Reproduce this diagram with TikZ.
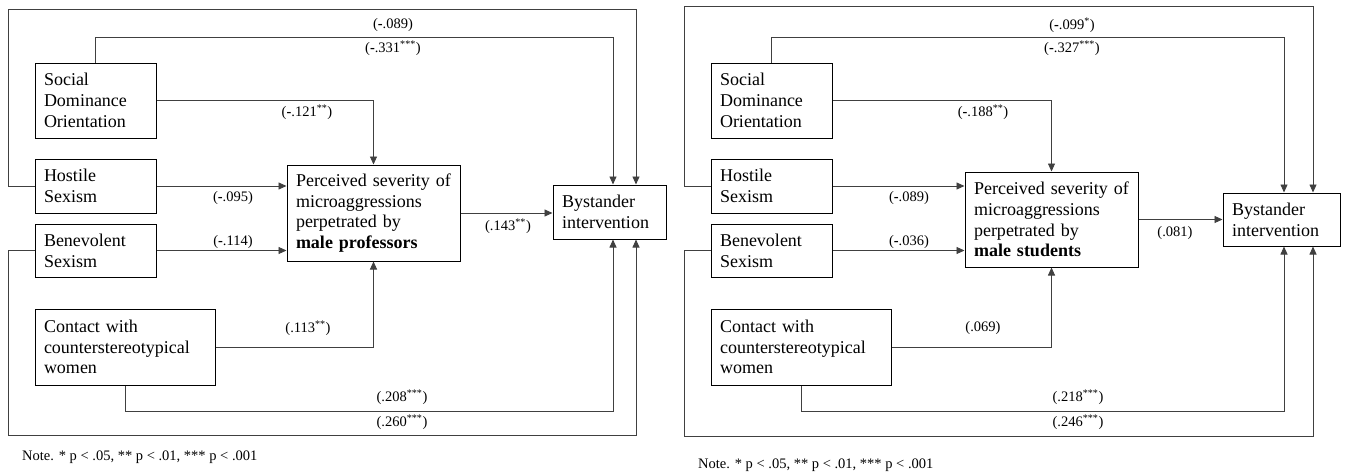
\documentclass[tikz,border=0pt]{standalone}
\usepackage{fontspec}
\setmainfont{Liberation Serif}
\usetikzlibrary{arrows.meta}

\begin{document}
\begin{tikzpicture}[x=1pt,y=-1pt,
  var/.style={shape=rectangle,draw=black,line width=1pt,align=left,inner xsep=9pt,inner ysep=0pt,font=\fontsize{18}{20.7}\selectfont},
  coef/.style={inner sep=0pt,font=\fontsize{14.5}{17}\selectfont},
  link/.style={draw=black!75,line width=0.9pt,-{Triangle[length=8pt,width=7pt]}}]
\useasboundingbox (0,0) rectangle (1346,472);

% left model: male professors
\node[var,text width=103pt,minimum height=75pt] (sdoA) at (95.5,100.5) {Social\\Dominance\\Orientation};
\node[var,text width=103pt,minimum height=54pt] (hsA) at (95.5,186) {Hostile\\Sexism};
\node[var,text width=103pt,minimum height=53pt] (bsA) at (95.5,250.5) {Benevolent\\Sexism};
\node[var,text width=162pt,minimum height=76pt] (ctA) at (125,347) {Contact with\\counterstereotypical\\women};
\node[var,text width=155pt,minimum height=96pt] (psA) at (373.5,213) {Perceived severity of\\microaggressions\\perpetrated by\\\textbf{male professors}};
\node[var,text width=95pt,minimum height=54pt] (byA) at (609.5,212) {Bystander\\intervention};

\coordinate (cornA) at (8,9);
\coordinate (cornB) at (8,435);
\coordinate (outA) at (636,9);
\coordinate (inA) at (613,37);
\coordinate (lowA) at (613,411);

\draw[link] (hsA.west) -| (cornA) -| (byA.north -| outA);
\draw[link] (sdoA.north) |- (inA) -- (inA |- byA.north);
\draw[link] (sdoA.east) -| (psA.north);
\draw[link] (hsA) -- (hsA -| psA.west);
\draw[link] (bsA) -- (bsA -| psA.west);
\draw[link] (ctA.east) -| (psA.south);
\draw[link] (psA.east) -- (psA.east -| byA.west);
\draw[link] (bsA.west) -| (cornB) -| (byA.south -| outA);
\draw[link] (ctA.south) |- (lowA) -- (lowA |- byA.south);

\node[coef] (c1A) at (393,25) {(\textbf{-}.089)};
\node[coef] (c2A) at (393,48) {(\textbf{-}.331\textsuperscript{***})};
\node[coef] (c3A) at (307,112) {(\textbf{-}.121\textsuperscript{**})};
\node[coef] (c4A) at (233,198) {(\textbf{-}.095)};
\node[coef] (c5A) at (233,242) {(\textbf{-}.114)};
\node[coef] (c6A) at (508,226) {(.143\textsuperscript{**})};
\node[coef] (c7A) at (308,328) {(.113\textsuperscript{**})};
\node[coef] (c8A) at (402,397) {(.208\textsuperscript{***})};
\node[coef] (c9A) at (402,422) {(.260\textsuperscript{***})};
\node[coef,anchor=west] (noteA) at (22,457) {Note. * p < .05, ** p < .01, *** p < .001};

% right model: male students
\node[var,text width=103pt,minimum height=75pt] (sdoB) at (771.5,100.5) {Social\\Dominance\\Orientation};
\node[var,text width=103pt,minimum height=54pt] (hsB) at (771.5,186) {Hostile\\Sexism};
\node[var,text width=103pt,minimum height=53pt] (bsB) at (771.5,250.5) {Benevolent\\Sexism};
\node[var,text width=162pt,minimum height=76pt] (ctB) at (801,347) {Contact with\\counterstereotypical\\women};
\node[var,text width=155pt,minimum height=95pt] (psB) at (1051.5,219.5) {Perceived severity of\\microaggressions\\perpetrated by\\\textbf{male students}};
\node[var,text width=99pt,minimum height=53pt] (byB) at (1281.5,219.5) {Bystander\\intervention};

\coordinate (cornC) at (684,6);
\coordinate (cornD) at (684,436);
\coordinate (outB) at (1313,6);
\coordinate (inB) at (1284,37);
\coordinate (lowB) at (1284,411);

\draw[link] (hsB.west) -| (cornC) -| (byB.north -| outB);
\draw[link] (sdoB.north) |- (inB) -- (inB |- byB.north);
\draw[link] (sdoB.east) -| (psB.north);
\draw[link] (hsB) -- (hsB -| psB.west);
\draw[link] (bsB) -- (bsB -| psB.west);
\draw[link] (ctB.east) -| (psB.south);
\draw[link] (psB.east) -- (psB.east -| byB.west);
\draw[link] (bsB.west) -| (cornD) -| (byB.south -| outB);
\draw[link] (ctB.south) |- (lowB) -- (lowB |- byB.south);

\node[coef] (c1B) at (1072,25) {(\textbf{-}.099\textsuperscript{*})};
\node[coef] (c2B) at (1072,48) {(\textbf{-}.327\textsuperscript{***})};
\node[coef] (c3B) at (983,112) {(\textbf{-}.188\textsuperscript{**})};
\node[coef] (c4B) at (909,198) {(\textbf{-}.089)};
\node[coef] (c5B) at (909,242) {(\textbf{-}.036)};
\node[coef] (c6B) at (1175,233) {(.081)};
\node[coef] (c7B) at (983,328) {(.069)};
\node[coef] (c8B) at (1078,397) {(.218\textsuperscript{***})};
\node[coef] (c9B) at (1078,422) {(.246\textsuperscript{***})};
\node[coef,anchor=west] (noteB) at (698,465) {Note. * p < .05, ** p < .01, *** p < .001};
\end{tikzpicture}
\end{document}
